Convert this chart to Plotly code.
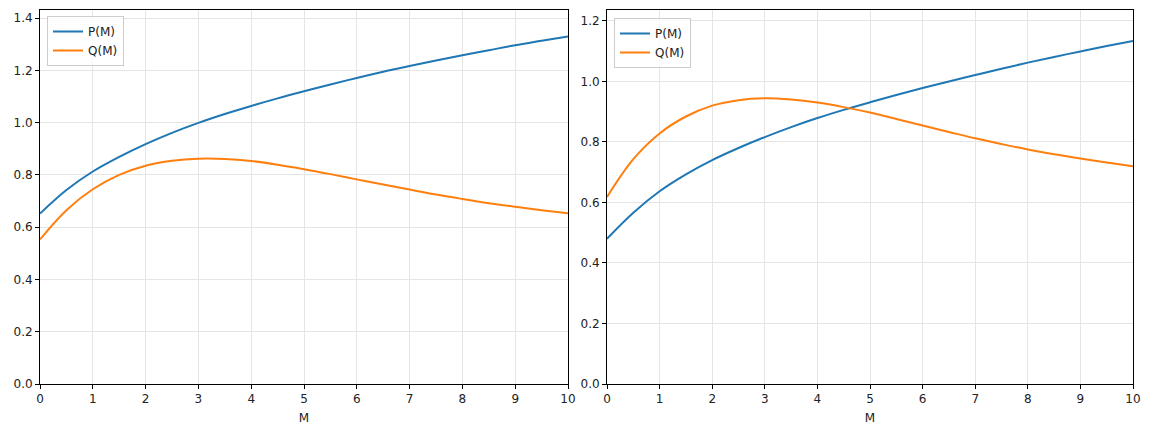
import plotly.graph_objects as go

# Values
M = [0, 0.5, 1, 1.5, 2, 2.5, 3, 3.5, 4, 4.5, 5, 5.5, 6, 6.5, 7, 7.5, 8, 8.5, 9, 9.5, 10]

P_left = [0.652, 0.742, 0.813, 0.869, 0.918, 0.961, 0.999, 1.033, 1.064, 1.093, 1.120,
          1.146, 1.171, 1.195, 1.217, 1.238, 1.258, 1.277, 1.296, 1.313, 1.330]
Q_left = [0.553, 0.665, 0.745, 0.800, 0.835, 0.854, 0.862, 0.861, 0.853, 0.839, 0.822,
          0.803, 0.783, 0.763, 0.744, 0.725, 0.708, 0.692, 0.678, 0.665, 0.653]

P_right = [0.480, 0.566, 0.637, 0.693, 0.740, 0.780, 0.816, 0.849, 0.879, 0.906, 0.931,
           0.955, 0.978, 1.000, 1.021, 1.042, 1.062, 1.081, 1.099, 1.117, 1.134]
Q_right = [0.618, 0.743, 0.828, 0.884, 0.920, 0.938, 0.944, 0.940, 0.930, 0.915, 0.897,
           0.876, 0.854, 0.833, 0.812, 0.793, 0.775, 0.759, 0.745, 0.732, 0.720]

x_ticks = list(range(0, 11))
y_ticks_left = [0.0, 0.2, 0.4, 0.6, 0.8, 1.0, 1.2, 1.4]
y_ticks_right = [0.0, 0.2, 0.4, 0.6, 0.8, 1.0, 1.2]

BLUE = "#1f77b4"
ORANGE = "#ff7f0e"
FONT = "DejaVu Sans"

W, H = 1152, 425
fig = go.Figure()

def add(xv, yv, name, color, xa, ya, leg):
    fig.add_trace(go.Scatter(x=xv, y=yv, mode="lines", name=name,
                             line=dict(color=color, width=2, shape="spline", smoothing=1.0),
                             xaxis=xa, yaxis=ya, legend=leg))

add(M, P_left, "P(M)", BLUE, "x", "y", "legend")
add(M, Q_left, "Q(M)", ORANGE, "x", "y", "legend")
add(M, P_right, "P(M)", BLUE, "x2", "y2", "legend2")
add(M, Q_right, "Q(M)", ORANGE, "x2", "y2", "legend2")

ydom = [1 - 384 / H, 1 - 10 / H]
common_axis = dict(showline=True, linecolor="black", linewidth=1, mirror=True,
                   ticks="outside", ticklen=4, tickcolor="black",
                   showgrid=True, gridcolor="#e5e5e5", gridwidth=1,
                   zeroline=False, automargin=False,
                   tickfont=dict(family=FONT, size=12, color="#222"))

fig.update_layout(
    width=W, height=H,
    margin=dict(l=0, r=0, t=0, b=0),
    paper_bgcolor="white", plot_bgcolor="white",
    font=dict(family=FONT, size=12, color="#222"),
    xaxis=dict(domain=[40 / W, 568 / W], range=[0, 10], tickvals=x_ticks,
               title=dict(text="M", font=dict(family=FONT, size=12), standoff=8),
               anchor="y", **common_axis),
    yaxis=dict(domain=ydom, range=[0, 1.431], tickvals=y_ticks_left,
               tickformat=".1f", anchor="x", **common_axis),
    xaxis2=dict(domain=[607 / W, 1133 / W], range=[0, 10], tickvals=x_ticks,
                title=dict(text="M", font=dict(family=FONT, size=12), standoff=8),
                anchor="y2", **common_axis),
    yaxis2=dict(domain=ydom, range=[0, 1.236], tickvals=y_ticks_right,
                tickformat=".1f", anchor="x2", **common_axis),
    legend=dict(x=47 / W, y=1 - 16 / H, xanchor="left", yanchor="top",
                bgcolor="rgba(255,255,255,0.8)", bordercolor="#cccccc", borderwidth=1,
                font=dict(family=FONT, size=12), tracegroupgap=0, itemwidth=30),
    legend2=dict(x=614 / W, y=1 - 18 / H, xanchor="left", yanchor="top",
                 bgcolor="rgba(255,255,255,0.8)", bordercolor="#cccccc", borderwidth=1,
                 font=dict(family=FONT, size=12), tracegroupgap=0, itemwidth=30),
)

fig.write_html("out.html")
